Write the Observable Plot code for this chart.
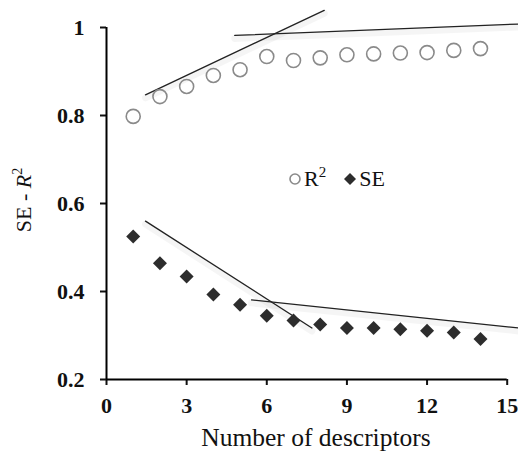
<!DOCTYPE html>
<html><head><meta charset="utf-8">
<script src="https://cdn.jsdelivr.net/npm/d3@7"></script>
<script src="https://cdn.jsdelivr.net/npm/@observablehq/plot@0.6"></script>
<style>
body{margin:0;background:#fff;}
#wrap{position:relative;width:518px;height:452px;font-family:"Liberation Serif","Times New Roman",serif;}
#wrap svg text{font-family:"Liberation Serif","Times New Roman",serif;}
#wrap svg g[aria-label="x-axis tick label"] text,
#wrap svg g[aria-label="y-axis tick label"] text{font-weight:bold;font-size:22px;fill:#111;}
#legend{position:absolute;left:288px;top:166px;font-size:22px;line-height:26px;color:#111;display:flex;align-items:center;white-space:nowrap;}
</style></head>
<body><div id="wrap"><div id="legend"></div></div>
<script>
const descriptors = [1,2,3,4,5,6,7,8,9,10,11,12,13,14];
const r2Values = [0.798,0.843,0.866,0.891,0.904,0.934,0.925,0.931,0.938,0.940,0.942,0.943,0.948,0.952];
const seValues = [0.525,0.464,0.434,0.393,0.370,0.345,0.334,0.325,0.317,0.317,0.314,0.311,0.307,0.292];
const xTicks = [0,3,6,9,12,15];
const yTicks = [0.2,0.4,0.6,0.8,1];
// trend lines (start/end points)
const trendR2a = [[1.46,0.847],[8.15,1.039]];
const trendR2b = [[4.8,0.982],[15.45,1.008]];
const trendSEa = [[1.46,0.560],[7.69,0.317]];
const trendSEb = [[5.43,0.381],[15.45,0.317]];

const r2Data = descriptors.map((d,i)=>({x:d,y:r2Values[i]}));
const seData = descriptors.map((d,i)=>({x:d,y:seValues[i]}));
const trends = [trendR2a,trendR2b,trendSEa,trendSEb];
const serif = "'Liberation Serif','Times New Roman',serif";

const shadow = trends.map(t => Plot.line(t,{x:d=>d[0],y:d=>d[1],stroke:"#000",strokeOpacity:0.04,strokeWidth:7,dy:3}));
const lines = trends.map(t => Plot.line(t,{x:d=>d[0],y:d=>d[1],stroke:"#222",strokeWidth:1.3}));

const chart = Plot.plot({
  width:518, height:452,
  marginLeft:106, marginRight:11.3, marginTop:27, marginBottom:73,
  style:{fontFamily:serif,fontSize:"20px",color:"#111",background:"#fff",overflow:"visible"},
  x:{domain:[0,15],ticks:xTicks,tickFormat:d3.format("~g"),label:null},
  y:{domain:[0.2,1],ticks:yTicks,tickFormat:d3.format("~g"),label:null},
  marks:[
    ...shadow,
    ...lines,
    Plot.dot(r2Data,{x:"x",y:"y",r:7,stroke:"#8a8a8a",strokeWidth:1.6,fill:"none"}),
    Plot.dot(seData,{x:"x",y:"y",symbol:"diamond2",r:6.3,fill:"#2d2d2d",stroke:"none"}),
    Plot.axisX({ticks:xTicks,tickFormat:d3.format("~g"),tickSize:6,tickPadding:12,strokeWidth:2,fontWeight:"bold",fontSize:22,fontFamily:serif,label:null}),
    Plot.axisY({ticks:yTicks,tickFormat:d3.format("~g"),tickSize:6,tickPadding:16,strokeWidth:2,fontWeight:"bold",fontSize:22,fontFamily:serif,label:null}),
    Plot.ruleX([0],{stroke:"#000",strokeWidth:2}),
    Plot.ruleY([0.2],{stroke:"#000",strokeWidth:2})
  ]
});
document.getElementById("wrap").prepend(chart);

const svg = d3.select(chart);
svg.append("text").attr("x",316).attr("y",446).attr("text-anchor","middle")
  .attr("font-family",serif).attr("font-size",25.5).attr("fill","#111").text("Number of descriptors");
const yl = svg.append("text").attr("transform","translate(31,200) rotate(-90)")
  .attr("font-family",serif).attr("text-anchor","middle").attr("font-size",22).attr("fill","#111");
yl.append("tspan").text("SE - ");
yl.append("tspan").attr("font-style","italic").text("R");
yl.append("tspan").attr("font-size",14).attr("dy",-9).text("2");

document.getElementById("legend").innerHTML =
  '<svg width="14" height="16" style="margin-right:2px"><circle cx="7" cy="8" r="5" fill="none" stroke="#8a8a8a" stroke-width="1.6"/></svg>' +
  '<span>R<sup style="font-size:15px;vertical-align:9px;line-height:0">2</sup></span>' +
  '<svg width="14" height="16" style="margin-left:17px;margin-right:2px"><path d="M7 2L13 8L7 14L1 8Z" fill="#2d2d2d"/></svg>' +
  '<span>SE</span>';
</script></body></html>
